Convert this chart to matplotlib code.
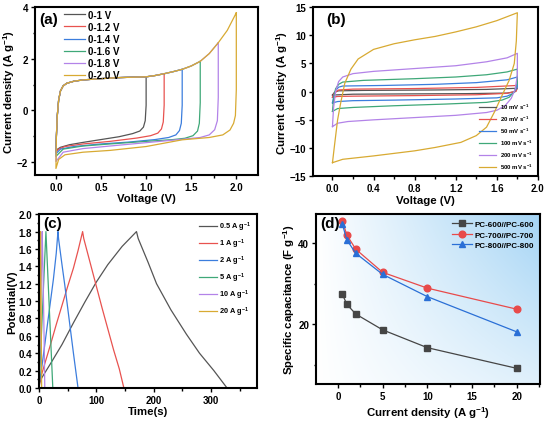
import matplotlib
matplotlib.use("Agg")
import matplotlib.pyplot as plt
import numpy as np
from matplotlib.ticker import MultipleLocator

plt.rcParams['font.family'] = ['Liberation Sans', 'DejaVu Sans']
plt.rcParams['font.weight'] = 'bold'
plt.rcParams['axes.labelweight'] = 'bold'
plt.rcParams['axes.linewidth'] = 1.5
plt.rcParams['mathtext.fontset'] = 'custom'
plt.rcParams['mathtext.rm'] = 'Liberation Sans:bold'
plt.rcParams['mathtext.bf'] = 'Liberation Sans:bold'
plt.rcParams['mathtext.default'] = 'bf'

colors = ['#555555', '#e8524f', '#3b7ddd', '#3fa878', '#b383e8', '#d8aa32']

# ---- (a) CV at different voltage windows ----
a_labels = ['0-1 V', '0-1.2 V', '0-1.4 V', '0-1.6 V', '0-1.8 V', '0-2.0 V']
a_vmax = [1.0, 1.2, 1.4, 1.6, 1.8, 2.0]
# shared forward (charging) branch
a_up_v = [0.005, 0.015, 0.03, 0.05, 0.08, 0.12, 0.2, 0.3, 0.5, 0.7, 0.9, 1.0,
          1.1, 1.2, 1.3, 1.4, 1.5, 1.6, 1.7, 1.8, 1.9, 2.0]
a_up_i = [-1.0, -0.2, 0.4, 0.75, 0.95, 1.05, 1.13, 1.18, 1.23, 1.27, 1.29, 1.3,
          1.35, 1.42, 1.5, 1.59, 1.72, 1.9, 2.2, 2.62, 3.1, 3.78]
# reverse branches
a_dn_v = [
    [1.0, 1.0, 0.99, 0.97, 0.93, 0.85, 0.7, 0.5, 0.3, 0.15, 0.05, 0.01, 0.0],
    [1.2, 1.2, 1.19, 1.17, 1.13, 1.05, 0.9, 0.6, 0.3, 0.1, 0.03, 0.0],
    [1.4, 1.4, 1.39, 1.37, 1.33, 1.25, 1.1, 0.8, 0.5, 0.2, 0.05, 0.0],
    [1.6, 1.6, 1.59, 1.57, 1.52, 1.43, 1.3, 1.0, 0.6, 0.3, 0.08, 0.0],
    [1.8, 1.8, 1.79, 1.76, 1.7, 1.6, 1.4, 1.0, 0.6, 0.3, 0.08, 0.0],
    [2.0, 2.0, 1.99, 1.97, 1.93, 1.85, 1.7, 1.4, 1.0, 0.6, 0.3, 0.1, 0.03, 0.0],
]
a_dn_i = [
    [1.3, 0.2, -0.4, -0.65, -0.8, -0.9, -1.02, -1.13, -1.24, -1.33, -1.43, -1.52, -1.6],
    [1.42, 0.2, -0.45, -0.72, -0.88, -0.98, -1.07, -1.2, -1.3, -1.4, -1.5, -1.62],
    [1.59, 0.2, -0.5, -0.78, -0.95, -1.05, -1.13, -1.23, -1.3, -1.4, -1.5, -1.68],
    [1.9, 0.3, -0.5, -0.8, -0.98, -1.08, -1.13, -1.2, -1.3, -1.38, -1.5, -1.78],
    [2.62, 0.5, -0.4, -0.75, -0.95, -1.05, -1.12, -1.25, -1.38, -1.48, -1.62, -1.98],
    [3.78, 0.8, -0.2, -0.5, -0.76, -0.95, -1.05, -1.14, -1.4, -1.55, -1.62, -1.72, -1.9, -2.25],
]

# ---- (b) CV at different scan rates ----
b_labels = ['10 mV s$^{-1}$', '20 mV s$^{-1}$', '50 mV s$^{-1}$',
            '100 mV s$^{-1}$', '200 mV s$^{-1}$', '500 mV s$^{-1}$']
b_up_v = [
    [0, 0.02, 0.06, 0.3, 1.0, 1.5, 1.8],
    [0, 0.02, 0.06, 0.2, 0.8, 1.4, 1.8],
    [0, 0.01, 0.03, 0.06, 0.1, 0.5, 1.0, 1.4, 1.7, 1.8],
    [0, 0.01, 0.03, 0.06, 0.1, 0.3, 0.8, 1.2, 1.5, 1.7, 1.8],
    [0, 0.01, 0.03, 0.06, 0.1, 0.2, 0.4, 0.8, 1.2, 1.5, 1.7, 1.8],
    [0, 0.02, 0.05, 0.08, 0.12, 0.18, 0.25, 0.4, 0.6, 0.8, 1.0, 1.2, 1.4, 1.6, 1.7, 1.8],
]
b_up_i = [
    [-0.6, -0.1, 0.15, 0.22, 0.3, 0.4, 0.6],
    [-1.0, -0.2, 0.3, 0.45, 0.55, 0.75, 1.1],
    [-2.0, -1.0, 0.2, 0.8, 1.0, 1.1, 1.3, 1.6, 2.1, 2.6],
    [-3.5, -1.5, 0.5, 1.3, 1.7, 2.0, 2.3, 2.6, 3.0, 3.5, 4.0],
    [-6.2, -3.0, 0.0, 1.8, 2.6, 3.2, 3.6, 4.1, 4.6, 5.3, 6.0, 6.8],
    [-12.6, -9.5, -5.0, -2.0, 1.5, 4.0, 5.8, 7.5, 8.5, 9.2, 9.8, 10.6, 11.5, 12.6, 13.3, 14.0],
]
b_dn_v = [
    [1.8, 1.78, 1.7, 1.3, 0.7, 0.2, 0.0],
    [1.8, 1.79, 1.7, 1.4, 0.8, 0.2, 0.05, 0.0],
    [1.8, 1.8, 1.76, 1.7, 1.6, 1.2, 0.6, 0.2, 0.05, 0.0],
    [1.8, 1.8, 1.77, 1.72, 1.65, 1.5, 1.1, 0.6, 0.2, 0.05, 0.0],
    [1.8, 1.8, 1.78, 1.74, 1.68, 1.6, 1.5, 1.2, 0.8, 0.4, 0.15, 0.05, 0.0],
    [1.8, 1.79, 1.77, 1.72, 1.65, 1.58, 1.5, 1.4, 1.25, 1.0, 0.8, 0.4, 0.1, 0.0],
]
b_dn_i = [
    [0.6, 0.0, -0.25, -0.35, -0.4, -0.45, -0.6],
    [1.1, 0.1, -0.3, -0.55, -0.7, -0.8, -0.85, -1.0],
    [2.6, 0.8, -0.3, -0.8, -1.1, -1.3, -1.5, -1.6, -1.75, -2.0],
    [4.0, 1.5, 0.0, -1.0, -1.5, -1.9, -2.2, -2.5, -2.8, -3.0, -3.5],
    [6.8, 3.0, 0.5, -1.2, -2.5, -3.3, -3.7, -4.2, -4.6, -5.0, -5.3, -5.6, -6.2],
    [14.0, 9.0, 5.0, 2.0, -0.7, -3.5, -6.3, -7.8, -9.0, -9.9, -10.5, -11.4, -12.0, -12.6],
]

# ---- (c) GCD curves ----
c_labels = ['0.5 A g$^{-1}$', '1 A g$^{-1}$', '2 A g$^{-1}$',
            '5 A g$^{-1}$', '10 A g$^{-1}$', '20 A g$^{-1}$']
c_t = [
    [0, 1, 5, 20, 40, 60, 80, 100, 120, 145, 170, 173, 190, 205, 230, 257, 280, 305, 328],
    [0, 2, 10, 20, 30, 40, 50, 60, 68, 76, 78, 90, 100, 110, 120, 130, 140, 148],
    [0, 1, 5, 10, 15, 20, 25, 30, 33, 34, 40, 45, 50, 55, 60, 65, 68],
    [0, 1, 4, 8, 12, 14, 18, 22, 24],
    [0, 1, 3, 5, 5.5, 7, 9, 10],
    [0, 1, 2, 2.5, 3.5, 4.5],
]
c_v = [
    [0, 0.06, 0.12, 0.28, 0.5, 0.75, 0.99, 1.22, 1.42, 1.63, 1.8, 1.72, 1.45, 1.2, 0.9, 0.62, 0.4, 0.2, 0.0],
    [0, 0.1, 0.28, 0.5, 0.73, 0.95, 1.17, 1.38, 1.58, 1.8, 1.72, 1.42, 1.17, 0.92, 0.68, 0.44, 0.22, 0.0],
    [0, 0.08, 0.25, 0.5, 0.75, 1.0, 1.25, 1.55, 1.8, 1.72, 1.42, 1.18, 0.92, 0.66, 0.4, 0.15, 0.0],
    [0, 0.15, 0.6, 1.2, 1.8, 1.5, 0.9, 0.3, 0.0],
    [0, 0.3, 1.0, 1.6, 1.8, 1.3, 0.5, 0.0],
    [0, 0.7, 1.5, 1.8, 1.0, 0.0],
]

# ---- (d) specific capacitance ----
d_current = [0.5, 1, 2, 5, 10, 20]
d_pc600 = [27.4, 24.9, 22.5, 18.6, 14.2, 9.1]
d_pc700 = [45.5, 42.0, 38.5, 32.8, 28.9, 23.7]
d_pc800 = [44.7, 40.8, 37.5, 32.3, 26.8, 18.1]

LAB = 8.2


def style(ax):
    ax.tick_params(which='both', direction='out', labelsize=7, width=1.0, pad=2)
    ax.tick_params(which='major', length=3)
    ax.tick_params(which='minor', length=1.8)
    for lab in ax.get_xticklabels() + ax.get_yticklabels():
        lab.set_fontweight('bold')


fig = plt.figure(figsize=(5.5, 4.27), dpi=100)

# (a)
ax = fig.add_axes([0.064, 0.588, 0.405, 0.393])
for k in range(6):
    n = a_up_v.index(a_vmax[k]) + 1
    v = list(a_dn_v[k]) + a_up_v[:n]
    i = list(a_dn_i[k]) + a_up_i[:n]
    ax.plot(v, i, color=colors[k], lw=0.9, label=a_labels[k])
ax.set_xlim(-0.23, 2.24)
ax.set_ylim(-2.5, 4.0)
ax.set_xticks([0.0, 0.5, 1.0, 1.5, 2.0])
ax.xaxis.set_minor_locator(MultipleLocator(0.25))
ax.set_yticks([-2, 0, 2, 4])
ax.yaxis.set_minor_locator(MultipleLocator(1))
ax.set_xlabel('Voltage (V)', fontsize=LAB, labelpad=1)
ax.set_ylabel('Current density (A g$^{-1}$)', fontsize=LAB, labelpad=0)
ax.text(0.02, 0.97, '(a)', transform=ax.transAxes, fontsize=11,
        fontweight='bold', va='top')
ax.legend(loc='upper left', bbox_to_anchor=(0.1, 1.025), frameon=False,
          handlelength=2.1, handletextpad=0.3, labelspacing=0.22, borderpad=0.2,
          prop={'weight': 'bold', 'size': 7})
style(ax)

# (b)
ax = fig.add_axes([0.569, 0.585, 0.409, 0.396])
for k in range(6):
    v = list(b_up_v[k]) + list(b_dn_v[k])
    i = list(b_up_i[k]) + list(b_dn_i[k])
    ax.plot(v, i, color=colors[k], lw=0.9, label=b_labels[k])
ax.set_xlim(-0.19, 2.0)
ax.set_ylim(-15, 15)
ax.set_xticks([0.0, 0.4, 0.8, 1.2, 1.6, 2.0])
ax.xaxis.set_minor_locator(MultipleLocator(0.2))
ax.set_yticks([-15, -10, -5, 0, 5, 10, 15])
ax.set_xlabel('Voltage (V)', fontsize=LAB, labelpad=1)
ax.set_ylabel('Current density (A g$^{-1}$)', fontsize=LAB, labelpad=0)
ax.text(0.06, 0.97, '(b)', transform=ax.transAxes, fontsize=11,
        fontweight='bold', va='top')
ax.legend(loc='lower right', frameon=False, handlelength=2.7,
          labelspacing=0.45, borderpad=0.3, prop={'weight': 'bold', 'size': 4.3})
style(ax)

# (c)
ax = fig.add_axes([0.071, 0.089, 0.396, 0.407])
for k in range(6):
    ax.plot(c_t[k], c_v[k], color=colors[k], lw=0.9, label=c_labels[k])
ax.set_xlim(0, 380)
ax.set_ylim(0, 2.0)
ax.set_xticks([0, 100, 200, 300])
ax.xaxis.set_minor_locator(MultipleLocator(50))
ax.set_yticks(np.arange(0, 2.01, 0.2))
ax.yaxis.set_minor_locator(MultipleLocator(0.1))
ax.yaxis.set_major_formatter(plt.FormatStrFormatter('%.1f'))
ax.set_xlabel('Time(s)', fontsize=LAB, labelpad=1)
ax.set_ylabel('Potential(V)', fontsize=LAB, labelpad=1)
ax.text(0.02, 0.99, '(c)', transform=ax.transAxes, fontsize=11,
        fontweight='bold', va='top')
ax.legend(loc='upper right', frameon=False, handlelength=2.4,
          labelspacing=0.5, borderpad=0.25, handletextpad=0.3,
          prop={'weight': 'bold', 'size': 5.3})
style(ax)

# (d)
ax = fig.add_axes([0.5745, 0.098, 0.4075, 0.3985])
gx, gy = np.meshgrid(np.linspace(0, 1, 200), np.linspace(0, 1, 200))
t = np.clip(gx * (0.35 + 0.65 * gy), 0, 1)
c0 = np.array([1.0, 1.0, 1.0])
c1 = np.array([0.64, 0.83, 0.96])
grad = c0 + (c1 - c0) * t[..., None]
ax.imshow(grad, extent=[0, 1, 0, 1], origin='lower', transform=ax.transAxes,
          aspect='auto', zorder=0)
ax.plot(d_current, d_pc600, '-s', color='#454545', lw=0.9, ms=4.5,
        label='PC-600//PC-600', zorder=3)
ax.plot(d_current, d_pc700, '-o', color='#e84a4a', lw=0.9, ms=4.8,
        label='PC-700//PC-700', zorder=3)
ax.plot(d_current, d_pc800, '-^', color='#2a6fd6', lw=0.9, ms=4.8,
        label='PC-800//PC-800', zorder=3)
ax.set_xlim(-2.45, 22.6)
ax.set_ylim(5.2, 47.2)
ax.set_xticks([0, 5, 10, 15, 20])
ax.xaxis.set_minor_locator(MultipleLocator(2.5))
ax.set_yticks([20, 40])
ax.yaxis.set_minor_locator(MultipleLocator(10))
ax.set_xlabel('Current density (A g$^{-1}$)', fontsize=LAB, labelpad=2)
ax.set_ylabel('Specific capacitance (F g$^{-1}$)', fontsize=LAB, labelpad=1)
ax.text(0.02, 0.99, '(d)', transform=ax.transAxes, fontsize=11,
        fontweight='bold', va='top')
ax.legend(loc='upper right', frameon=False, handlelength=2.5,
          handletextpad=0.3, labelspacing=0.35, borderpad=0.3,
          prop={'weight': 'bold', 'size': 5.8})
style(ax)

fig.savefig('out.png', dpi=100)
